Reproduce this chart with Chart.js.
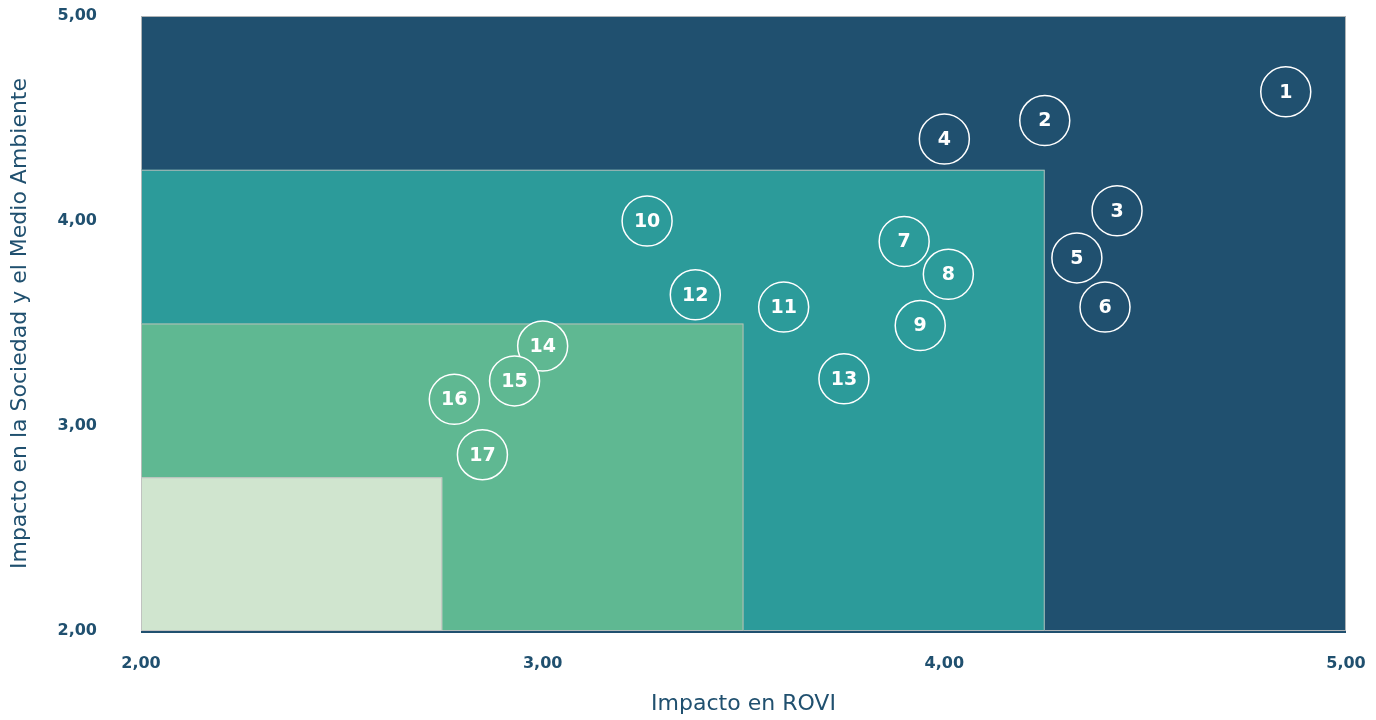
<!DOCTYPE html>
<html>
<head>
<meta charset="utf-8">
<script src="https://cdn.jsdelivr.net/npm/chart.js@4.4.1/dist/chart.umd.min.js"></script>
<style>
  body { margin: 0; background: #ffffff; }
  canvas { display: block; }
</style>
</head>
<body>
<canvas id="matrix" width="1376" height="720"></canvas>
<script>
// Materiality matrix data
const pointLabels = ['1','2','3','4','5','6','7','8','9','10','11','12','13','14','15','16','17'];
const impactRovi = [4.85, 4.25, 4.43, 4.00, 4.33, 4.40, 3.90, 4.01, 3.94, 3.26, 3.60, 3.38, 3.75, 3.00, 2.93, 2.78, 2.85];
const impactSociety = [4.63, 4.49, 4.05, 4.40, 3.82, 3.58, 3.90, 3.74, 3.49, 4.00, 3.58, 3.64, 3.23, 3.39, 3.22, 3.13, 2.86];

// background zones, from largest to smallest (upper bound on both axes)
const zoneLimits = [5.00, 4.25, 3.50, 2.75];
const zoneColors = ['#20506f', '#2c9b9a', '#5fb892', '#d0e5cf'];

const axisMin = 2;
const axisMax = 5;
const textColor = '#20506f';
const fontFamily = '"DejaVu Sans", "Open Sans", sans-serif';

function zoneColorFor(x, y) {
    let color = zoneColors[0];
    for (let i = 0; i < zoneLimits.length; i++) {
        if (x <= zoneLimits[i] && y <= zoneLimits[i]) color = zoneColors[i];
    }
    return color;
}

const fmt = v => Number(v).toFixed(2).replace('.', ',');

// draws the coloured zones behind the points and the numbers on top
const zonesPlugin = {
    id: 'zones',
    beforeDatasetsDraw(chart) {
        const ctx = chart.ctx;
        const xs = chart.scales.x;
        const ys = chart.scales.y;
        ctx.save();
        zoneLimits.forEach((lim, i) => {
            const x0 = xs.getPixelForValue(axisMin);
            const x1 = xs.getPixelForValue(lim);
            const y0 = ys.getPixelForValue(lim);
            const y1 = ys.getPixelForValue(axisMin);
            ctx.fillStyle = zoneColors[i];
            ctx.fillRect(x0, y0, x1 - x0, y1 - y0);
            ctx.strokeStyle = 'rgba(190,190,190,0.9)';
            ctx.lineWidth = 1;
            ctx.strokeRect(x0 + 0.5, y0 + 0.5, x1 - x0 - 1, y1 - y0 - 1);
        });
        // bottom axis line
        ctx.strokeStyle = textColor;
        ctx.lineWidth = 2;
        ctx.beginPath();
        ctx.moveTo(xs.getPixelForValue(axisMin), ys.getPixelForValue(axisMin) + 1);
        ctx.lineTo(xs.getPixelForValue(axisMax), ys.getPixelForValue(axisMin) + 1);
        ctx.stroke();
        ctx.restore();
    },
    afterDatasetsDraw(chart) {
        const ctx = chart.ctx;
        const meta = chart.getDatasetMeta(0);
        ctx.save();
        ctx.fillStyle = '#ffffff';
        ctx.font = 'bold 19px ' + fontFamily;
        ctx.textAlign = 'center';
        ctx.textBaseline = 'middle';
        meta.data.forEach((el, i) => {
            ctx.fillText(pointLabels[i], el.x, el.y + 1);
        });
        ctx.restore();
    }
};

const points = impactRovi.map((x, i) => ({ x: x, y: impactSociety[i] }));

new Chart(document.getElementById('matrix'), {
    type: 'scatter',
    data: {
        datasets: [{
            data: points,
            pointRadius: 25,
            pointHoverRadius: 25,
            borderColor: '#ffffff',
            borderWidth: 1.5,
            backgroundColor: c => c.raw ? zoneColorFor(c.raw.x, c.raw.y) : zoneColors[0],
            clip: false
        }]
    },
    options: {
        responsive: false,
        animation: false,
        layout: { autoPadding: false, padding: { top: 16, right: 30, left: 0, bottom: 0 } },
        plugins: {
            legend: { display: false },
            tooltip: { enabled: false }
        },
        scales: {
            x: {
                min: axisMin,
                max: axisMax,
                grid: { display: false, drawTicks: false },
                border: { display: false },
                ticks: {
                    stepSize: 1,
                    padding: 23,
                    color: textColor,
                    font: { family: fontFamily, size: 16, weight: '600' },
                    callback: v => fmt(v)
                },
                title: {
                    display: true,
                    text: 'Impacto en ROVI',
                    color: textColor,
                    font: { family: fontFamily, size: 22 },
                    padding: { top: 3, bottom: 3 }
                },
                afterFit: s => { s.height = 89; s.paddingLeft = 0; s.paddingRight = 0; }
            },
            y: {
                min: axisMin,
                max: axisMax,
                grid: { display: false, drawTicks: false },
                border: { display: false },
                ticks: {
                    stepSize: 1,
                    padding: 44,
                    color: textColor,
                    font: { family: fontFamily, size: 16, weight: '600' },
                    callback: v => fmt(v)
                },
                title: {
                    display: true,
                    text: 'Impacto en la Sociedad y el Medio Ambiente',
                    color: textColor,
                    font: { family: fontFamily, size: 22 },
                    padding: { top: 7, bottom: 4 }
                },
                afterFit: s => { s.width = 141; s.paddingTop = 0; s.paddingBottom = 0; }
            }
        }
    },
    plugins: [zonesPlugin]
});
</script>
</body>
</html>
